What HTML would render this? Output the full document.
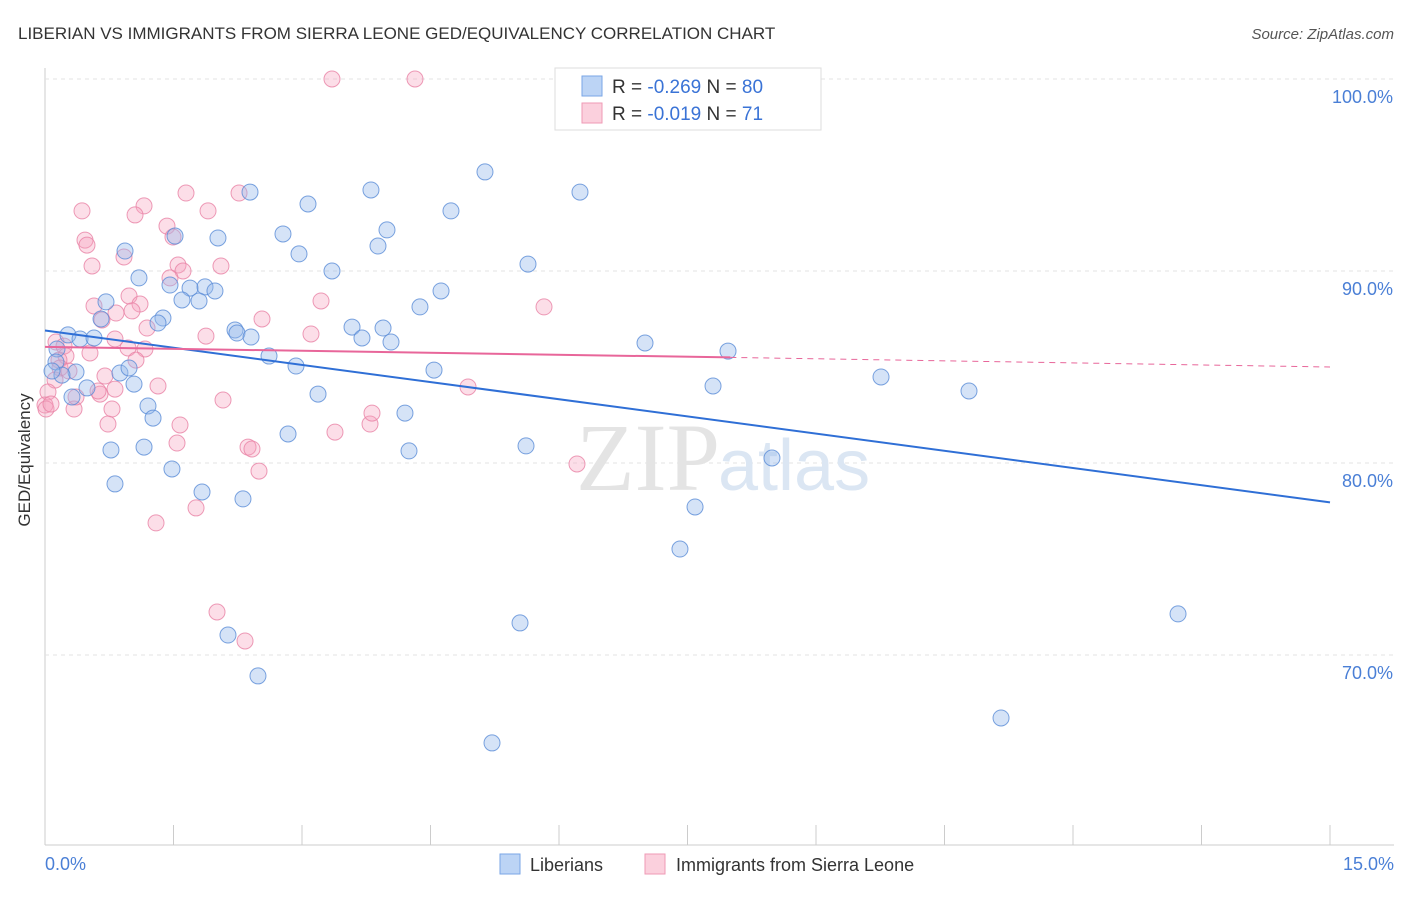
<!DOCTYPE html>
<html><head><meta charset="utf-8"><style>
body{margin:0;background:#fff;font-family:"Liberation Sans",sans-serif}
</style></head><body>
<svg width="1406" height="892" xmlns="http://www.w3.org/2000/svg">
<text x="18" y="39" font-size="17" fill="#333">LIBERIAN VS IMMIGRANTS FROM SIERRA LEONE GED/EQUIVALENCY CORRELATION CHART</text>
<text x="1394" y="39" font-size="15" fill="#555" font-style="italic" text-anchor="end">Source: ZipAtlas.com</text>
<g id="grid"></g>
<text x="720" y="490" font-size="96" fill="#e4e4e4" text-anchor="end" font-family="Liberation Serif">ZIP</text>
<text x="718" y="490" font-size="72" fill="#dbe6f3">atlas</text>
<g id="pts"></g>
<g id="trend"></g>
<text x="30" y="460" font-size="17" fill="#333" transform="rotate(-90 30 460)" text-anchor="middle">GED/Equivalency</text>
<text x="45" y="870" font-size="18" fill="#4a7fd6">0.0%</text>
<text x="1394" y="870" font-size="18" fill="#4a7fd6" text-anchor="end">15.0%</text>
<g>
<rect x="555" y="68" width="266" height="62" fill="#fff" stroke="#ddd"/>
<rect x="582" y="76" width="20" height="20" fill="#bcd4f5" stroke="#7aa6e6"/>
<rect x="582" y="103" width="20" height="20" fill="#fbd0dd" stroke="#ef9ab5"/>
<text x="612" y="93" font-size="19" fill="#333">R = <tspan fill="#3a73d6">-0.269</tspan>   N = <tspan fill="#3a73d6">80</tspan></text>
<text x="612" y="120" font-size="19" fill="#333">R = <tspan fill="#3a73d6">-0.019</tspan>   N =  <tspan fill="#3a73d6">71</tspan></text>
</g>
<g>
<rect x="500" y="854" width="20" height="20" fill="#bcd4f5" stroke="#7aa6e6"/>
<text x="530" y="871" font-size="18" fill="#333">Liberians</text>
<rect x="645" y="854" width="20" height="20" fill="#fbd0dd" stroke="#ef9ab5"/>
<text x="676" y="871" font-size="18" fill="#333">Immigrants from Sierra Leone</text>
</g>
</svg>
<script>
const yTicks=[70,80,90,100];
const xTicks=[0,1.5,3,4.5,6,7.5,9,10.5,12,13.5,15];
const bluePx=[[250,192],[308,204],[371,190],[485,172],[580,192],[451,211],[387,230],[378,246],[283,234],[299,254],[332,271],[218,238],[175,236],[125,251],[139,278],[170,285],[190,288],[205,287],[215,291],[182,300],[199,301],[106,302],[101,319],[163,318],[158,323],[235,330],[237,333],[251,337],[352,327],[383,328],[362,338],[391,342],[420,307],[441,291],[528,264],[68,335],[80,339],[94,338],[57,349],[56,362],[76,372],[62,375],[52,371],[120,373],[129,368],[269,356],[296,366],[318,394],[434,370],[87,388],[134,384],[72,397],[148,406],[153,418],[405,413],[288,434],[111,450],[144,447],[409,451],[526,446],[172,469],[115,484],[202,492],[243,499],[645,343],[728,351],[713,386],[881,377],[969,391],[772,458],[695,507],[680,549],[520,623],[228,635],[258,676],[1178,614],[1001,718],[492,743]];
const pinkPx=[[332,79],[415,79],[144,206],[82,211],[135,215],[186,193],[239,193],[208,211],[167,226],[173,237],[85,240],[87,245],[124,257],[92,266],[178,265],[183,271],[221,266],[170,278],[129,296],[140,304],[94,306],[116,313],[132,311],[102,320],[262,319],[321,301],[544,307],[147,328],[206,336],[311,334],[115,339],[56,342],[64,346],[128,348],[145,349],[90,353],[66,356],[59,360],[60,368],[69,371],[105,376],[136,360],[55,380],[48,392],[45,405],[115,389],[100,394],[158,386],[74,409],[112,409],[76,397],[98,391],[223,400],[180,425],[108,424],[177,443],[248,447],[252,449],[468,387],[370,424],[335,432],[372,413],[259,471],[577,464],[156,523],[196,508],[217,612],[245,641],[46,409],[51,404]];
// convert reading to data values (x in %, y in %)
const blueX=bluePx.map(p=>+((p[0]-45)/1285*15).toFixed(3));
const blueY=bluePx.map(p=>+(100-(p[1]-79)/19.2).toFixed(2));
const pinkX=pinkPx.map(p=>+((p[0]-45)/1285*15).toFixed(3));
const pinkY=pinkPx.map(p=>+(100-(p[1]-79)/19.2).toFixed(2));
const blueTrend=[[0,86.9],[15,77.95]];
const pinkTrend=[[0,86.05],[8,85.5],[15,85.0]];
const X=v=>45+v/15*1285, Y=v=>79+(100-v)*19.2;
const NS="http://www.w3.org/2000/svg";
function mk(t,a,p){const e=document.createElementNS(NS,t);for(const k in a)e.setAttribute(k,a[k]);p.appendChild(e);return e;}
const g=document.getElementById('grid');
let ax=mk('line',{x1:45,y1:68,x2:45,y2:845,stroke:'#ccc'},g);

let bx=mk('line',{x1:45,y1:845,x2:1394,y2:845,stroke:'#ccc'},g);

yTicks.forEach(t=>{
 const l=mk('line',{x1:45,x2:1394,y1:Y(t),y2:Y(t),stroke:'#e3e3e3','stroke-dasharray':'4,4'},g);
 
 const tx=mk('text',{x:1393,y:Y(t)+24,'font-size':18,fill:'#4a7fd6','text-anchor':'end'},g);
 tx.textContent=t.toFixed(1)+'%';
 
});
xTicks.forEach(t=>{
 const l=mk('line',{x1:X(t),x2:X(t),y1:825,y2:845,stroke:'#ccc'},g);
 
});
const pg=document.getElementById('pts');
function pts(xs,ys,fill,stroke,name){xs.forEach((x,i)=>{
 const c=mk('circle',{cx:X(x),cy:Y(ys[i]),r:8,fill:fill,stroke:stroke,'stroke-width':1},pg);
 
});}
pts(pinkX,pinkY,'rgba(245,160,190,0.35)','rgba(232,130,165,0.8)','sierra-leone-point');
pts(blueX,blueY,'rgba(150,185,235,0.4)','rgba(90,140,215,0.8)','liberian-point');
const tg=document.getElementById('trend');
let bl=mk('line',{x1:X(blueTrend[0][0]),y1:Y(blueTrend[0][1]),x2:X(blueTrend[1][0]),y2:Y(blueTrend[1][1]),stroke:'#2f6fd6','stroke-width':2},tg);

let pl=mk('line',{x1:X(pinkTrend[0][0]),y1:Y(pinkTrend[0][1]),x2:X(pinkTrend[1][0]),y2:Y(pinkTrend[1][1]),stroke:'#e8669a','stroke-width':2},tg);

let pd=mk('line',{x1:X(pinkTrend[1][0]),y1:Y(pinkTrend[1][1]),x2:X(pinkTrend[2][0]),y2:Y(pinkTrend[2][1]),stroke:'#e8669a','stroke-width':1,'stroke-dasharray':'6,5'},tg);

</script>
</body></html>
